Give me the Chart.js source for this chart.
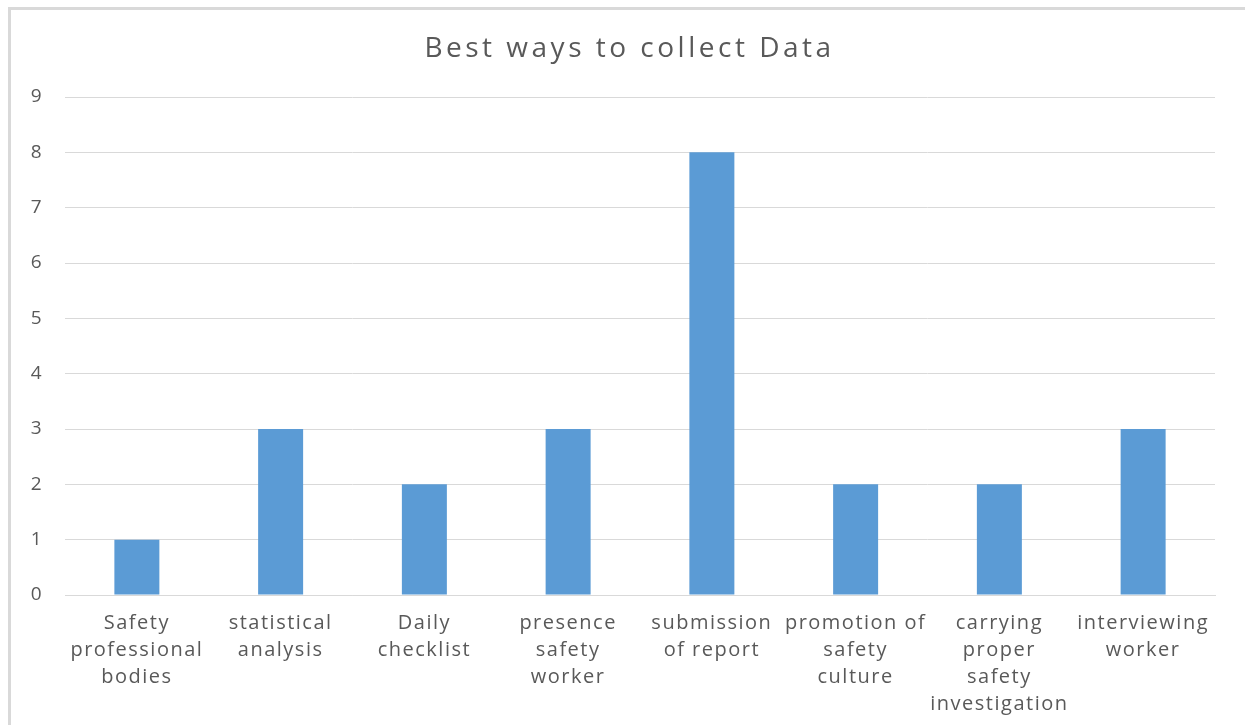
<!DOCTYPE html>
<html>
<head>
<meta charset="utf-8">
<script src="https://cdn.jsdelivr.net/npm/chart.js@4.4.0/dist/chart.umd.min.js"></script>
<style>
  html, body { margin: 0; padding: 0; background: #fff; }
  #wrap { position: relative; width: 1245px; height: 725px; overflow: hidden; }
  #frame { position: absolute; left: 8px; top: 7px; width: 1260px; height: 740px;
           border: 3px solid #d9d9d9; box-sizing: border-box; }
  canvas { position: absolute; left: 0; top: 0; }
</style>
</head>
<body>
<div id="wrap">
  <div id="frame"></div>
  <canvas id="myChart" width="1245" height="725"></canvas>
</div>
<script>
const ctx = document.getElementById('myChart')

// categories (wrapped as in the picture)
const labels = [
  ['Safety', 'professional', 'bodies'],
  ['statistical', 'analysis'],
  ['Daily', 'checklist'],
  ['presence', 'safety', 'worker'],
  ['submission', 'of report'],
  ['promotion of', 'safety', 'culture'],
  ['carrying', 'proper', 'safety', 'investigation'],
  ['interviewing', 'worker']
]
const values = [1, 3, 2, 3, 8, 2, 2, 3]
const yTicks = [0, 1, 2, 3, 4, 5, 6, 7, 8, 9]

const textColor = '#595959'
const gridColor = '#d9d9d9'

// the picture's text is stretched wide, so add some letter spacing
const spacing = {
    id: 'spacing',
    beforeDraw(chart) {
        chart.ctx.letterSpacing = '1.5px'
        const t = chart.titleBlock
        if (t && !t._wrapped) {
            const orig = t.draw
            t.draw = function() {
                const c = this.ctx
                c.save()
                c.letterSpacing = '3.5px'
                c.translate(17, 0)
                orig.call(this)
                c.restore()
            }
            t._wrapped = true
        }
    }
}

const data = {
    labels,
    datasets: [{
        data: values,
        backgroundColor: '#5b9bd5',
        borderWidth: 0,
        barPercentage: 1,
        categoryPercentage: 0.313
    }]
}

const config = {
    type: 'bar',
    data: data,
    plugins: [spacing],
    options: {
        responsive: false,
        animation: false,
        layout: { padding: { left: 10, right: 30, top: 0, bottom: 0 } },
        plugins: {
            legend: { display: false },
            tooltip: { enabled: false },
            title: {
                display: true,
                text: 'Best ways to collect Data',
                color: textColor,
                font: { family: 'Open Sans', size: 28, weight: 'normal' },
                padding: { top: 32, bottom: 31.4 }
            }
        },
        scales: {
            x: {
                grid: { display: false, drawTicks: false },
                border: { color: gridColor, width: 1 },
                ticks: {
                    color: textColor,
                    font: { family: 'Open Sans', size: 20, lineHeight: 1.35 },
                    padding: 15,
                    maxRotation: 0,
                    autoSkip: false
                },
                afterFit: function(scale) { scale.height = 130 }
            },
            y: {
                min: 0,
                max: 9,
                afterBuildTicks: function(scale) {
                    scale.ticks = yTicks.map(v => ({ value: v }))
                },
                grid: { color: gridColor, lineWidth: 1, drawTicks: false },
                border: { display: false },
                ticks: {
                    color: textColor,
                    font: { family: 'Open Sans', size: 19 },
                    padding: 22
                },
                afterFit: function(scale) { scale.width = 55 }
            }
        }
    }
};

const myChart = new Chart(ctx, config);
</script>
</body>
</html>
